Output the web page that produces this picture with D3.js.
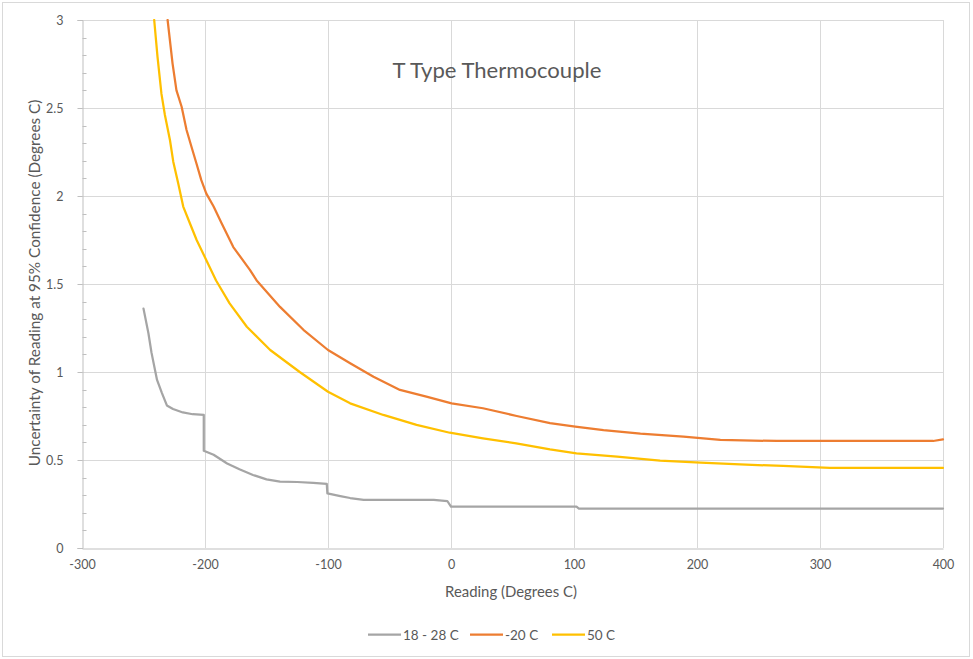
<!DOCTYPE html>
<html>
<head>
<meta charset="utf-8">
<script src="https://cdn.jsdelivr.net/npm/d3@7/dist/d3.min.js"></script>
<style>
  html, body { margin: 0; padding: 0; background: #fff; }
  svg { display: block; font-family: Lato, "Liberation Sans", sans-serif; }
</style>
</head>
<body>
<svg id="chart" width="973" height="659"></svg>
<script>
// ---- data ----
const title = "T Type Thermocouple";
const xTicks = [-300, -200, -100, 0, 100, 200, 300, 400];
const yTicks = [0, 0.5, 1, 1.5, 2, 2.5, 3];
const seriesNames = ["18 - 28 C", "-20 C", "50 C"];

const grayX = [-250, -246, -243.5, -239, -235, -231, -226, -218, -210, -201, -201, -193, -182, -172, -161, -150, -139, -125, -112, -101, -100.5, -90, -82, -71, -14, -3, 0, 80, 102, 104, 400];
const grayY = [1.36, 1.22, 1.11, 0.955, 0.88, 0.81, 0.79, 0.77, 0.76, 0.756, 0.553, 0.53, 0.48, 0.447, 0.415, 0.39, 0.377, 0.375, 0.37, 0.364, 0.31, 0.295, 0.284, 0.274, 0.274, 0.267, 0.235, 0.235, 0.235, 0.224, 0.224];

const orangeX = [-230.4, -226.4, -223.2, -219, -215, -211, -207, -203, -199, -193, -186.5, -177, -163.5, -158, -139, -120, -100, -82, -63, -41.5, -20, 0.5, 26, 53.4, 80.5, 101, 124, 154, 189, 219, 265, 392, 400];
const orangeY = [3.0, 2.754, 2.6, 2.507, 2.375, 2.28, 2.186, 2.09, 2.015, 1.94, 1.845, 1.71, 1.58, 1.52, 1.37, 1.24, 1.125, 1.05, 0.973, 0.898, 0.86, 0.822, 0.794, 0.75, 0.71, 0.69, 0.67, 0.65, 0.633, 0.614, 0.608, 0.608, 0.617];

const yellowX = [-241.3, -238.6, -235.4, -232.6, -228.5, -225.8, -221.8, -217.7, -212.3, -206.8, -191, -180, -166, -147, -123, -100, -82, -55, -28, -1, 26, 53, 80.5, 102, 135, 170, 203, 235, 270, 308, 400];
const yellowY = [3.0, 2.79, 2.58, 2.46, 2.318, 2.195, 2.072, 1.94, 1.845, 1.75, 1.52, 1.39, 1.257, 1.125, 1.0, 0.888, 0.822, 0.756, 0.70, 0.655, 0.623, 0.595, 0.56, 0.538, 0.519, 0.496, 0.485, 0.475, 0.466, 0.455, 0.455];

const colors = ["#A5A5A5", "#ED7D31", "#FFC000"];
const seriesX = [grayX, orangeX, yellowX];
const seriesY = [grayY, orangeY, yellowY];

// ---- layout ----
const svg = d3.select("#chart");
const pLeft = 82, pRight = 943, pTop = 20, pBottom = 548;
const x = d3.scaleLinear().domain([-300, 400]).range([pLeft, pRight]);
const y = d3.scaleLinear().domain([0, 3]).range([pBottom, pTop]);
const textColor = "#595959";
const fmt = d => String(d);

// outer border
svg.append("rect").attr("x", 2.5).attr("y", 2.5).attr("width", 967).attr("height", 654)
  .attr("fill", "#fff").attr("stroke", "#d9d9d9").attr("stroke-width", 1);

// gridlines
svg.append("g").selectAll("line").data(xTicks.slice(1)).join("line")
  .attr("x1", d => Math.round(x(d)) + 0.5).attr("x2", d => Math.round(x(d)) + 0.5)
  .attr("y1", pTop).attr("y2", pBottom)
  .attr("stroke", "#d9d9d9").attr("stroke-width", 1);
svg.append("g").selectAll("line").data(yTicks.slice(1)).join("line")
  .attr("x1", pLeft).attr("x2", pRight)
  .attr("y1", d => Math.round(y(d)) + 0.5).attr("y2", d => Math.round(y(d)) + 0.5)
  .attr("stroke", "#d9d9d9").attr("stroke-width", 1);

// y axis with minor ticks
const yAxis = svg.append("g").attr("transform", `translate(${pLeft + 0.5},0)`);
yAxis.call(d3.axisLeft(y).tickValues(yTicks).tickSize(5).tickPadding(14).tickFormat(fmt));
yAxis.select(".domain").attr("stroke", "#bfbfbf");
yAxis.selectAll(".tick line").attr("stroke", "#bfbfbf");
yAxis.selectAll(".tick text").attr("fill", textColor).attr("font-size", 12.5).attr("font-family", "Lato, sans-serif");
const minor = d3.range(0, 31).map(i => i / 10).filter(v => Math.abs(v * 2 - Math.round(v * 2)) > 1e-6);
yAxis.append("g").selectAll("line").data(minor).join("line")
  .attr("x1", 0).attr("x2", 4)
  .attr("y1", d => Math.round(y(d)) + 0.5).attr("y2", d => Math.round(y(d)) + 0.5)
  .attr("stroke", "#bfbfbf");

// x axis
const xAxis = svg.append("g").attr("transform", `translate(0,${pBottom + 0.5})`);
xAxis.call(d3.axisBottom(x).tickValues(xTicks).tickSize(0).tickPadding(12).tickFormat(fmt));
xAxis.select(".domain").attr("stroke", "#bfbfbf");
xAxis.selectAll(".tick text").attr("fill", textColor).attr("font-size", 12.5).attr("font-family", "Lato, sans-serif");

// lines
const line = d3.line().x(d => x(d[0])).y(d => y(d[1]));
svg.append("defs").append("clipPath").attr("id", "clip")
  .append("rect").attr("x", pLeft).attr("y", pTop - 1).attr("width", pRight - pLeft + 2).attr("height", pBottom - pTop + 1);
const lg = svg.append("g").attr("clip-path", "url(#clip)");
seriesX.forEach((xs, i) => {
  const pts = xs.map((v, j) => [v, seriesY[i][j]]);
  lg.append("path").datum(pts).attr("d", line)
    .attr("fill", "none").attr("stroke", colors[i]).attr("stroke-width", 2.25)
    .attr("stroke-linejoin", "round").attr("stroke-linecap", "round");
});

function fit(sel, base, target) {
  sel.attr("font-size", base);
  const w = sel.node().getComputedTextLength();
  if (w > 0) sel.attr("font-size", base * target / w);
  return sel;
}

// title
fit(svg.append("text").attr("x", 497).attr("y", 78).attr("text-anchor", "middle")
  .attr("fill", textColor).text(title), 20, 209);

// axis titles
fit(svg.append("text").attr("x", 511).attr("y", 597).attr("text-anchor", "middle")
  .attr("fill", textColor).text("Reading (Degrees C)"), 14, 132);
fit(svg.append("text").attr("transform", "translate(40,283) rotate(-90)").attr("text-anchor", "middle")
  .attr("fill", textColor).text("Uncertainty of Reading at 95% Confidence (Degrees C)"), 13, 367);

// legend
const legendX = [368, 470, 552];
const legend = svg.append("g");
seriesNames.forEach((name, i) => {
  legend.append("line").attr("x1", legendX[i]).attr("x2", legendX[i] + 33)
    .attr("y1", 634.5).attr("y2", 634.5).attr("stroke", colors[i]).attr("stroke-width", 2.25);
  legend.append("text").attr("x", legendX[i] + 35).attr("y", 639.5)
    .attr("fill", textColor).attr("font-size", 13.5).text(name);
});
</script>
</body>
</html>
